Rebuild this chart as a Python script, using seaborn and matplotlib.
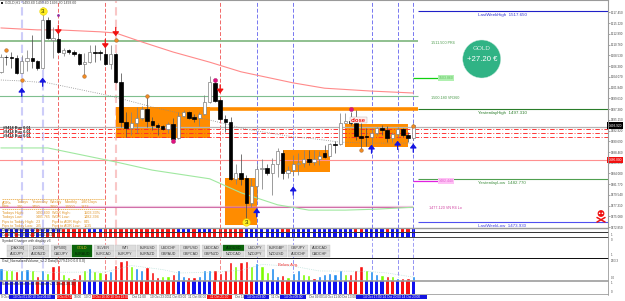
import numpy as np
import pandas as pd
import seaborn as sns
import matplotlib
matplotlib.use("Agg")
import matplotlib.pyplot as plt
from matplotlib.lines import Line2D
from matplotlib.patches import Circle, Rectangle
from matplotlib.transforms import Affine2D

# ---- price series (H1 candles) ----
opens = [1505.1,1508.2,1508.1,1508.0,1504.9,1507.3,1508.0,1507.3,1505.9,1515.85,
         1511.7,1511.9,1509.0,1509.6,1509.2,1508.8,1506.7,1507.1,1509.2,1509.2,
         1508.8,1506.7,1508.8,1503.0,1494.7,1493.4,1494.5,1495.5,1497.4,1494.9,
         1494.1,1493.9,1493.2,1494.3,1491.4,1495.9,1496.8,1495.7,1495.5,1496.3,
         1498.8,1502.8,1499.25,1495.3,1494.7,1482.9,1484.1,1483.1,1477.9,1481.4,
         1484.9,1485.1,1484.1,1486.0,1488.25,1484.1,1484.7,1486.0,1486.2,1487.0,
         1486.4,1487.0,1488.25,1487.6,1490.2,1490.1,1494.5,1494.9,1494.5,1491.8,
         1491.7,1491.6,1492.4,1493.4,1493.0,1491.4,1492.2,1493.2,1492.0,1491.4]
highs = [1508.8,1508.6,1509.2,1508.6,1508.6,1509.6,1512.7,1507.55,1517.3,1516.5,
         1514.4,1513.8,1510.0,1509.8,1509.6,1509.0,1509.0,1510.7,1510.7,1509.6,
         1510.2,1510.7,1509.0,1504.9,1496.8,1496.8,1497.8,1498.0,1499.9,1495.7,
         1494.5,1494.1,1494.7,1495.5,1496.8,1497.2,1497.0,1496.3,1496.8,1500.3,
         1504.2,1503.4,1499.5,1496.1,1495.7,1486.0,1488.0,1483.7,1483.1,1486.2,
         1487.0,1486.0,1487.2,1489.3,1488.9,1485.6,1487.8,1488.25,1488.9,1488.9,
         1488.9,1488.7,1489.9,1490.3,1490.7,1496.6,1496.6,1496.8,1497.2,1494.5,
         1493.4,1493.4,1493.6,1494.1,1493.9,1492.6,1493.6,1493.4,1492.6,1494.5]
lows = [1504.9,1506.5,1505.9,1504.6,1504.8,1505.3,1505.9,1505.5,1505.7,1511.9,
        1508.0,1509.0,1508.4,1508.8,1508.4,1506.5,1504.4,1506.9,1507.1,1507.55,
        1506.5,1505.7,1502.8,1493.6,1491.6,1492.0,1492.4,1495.1,1493.6,1493.0,
        1492.0,1493.0,1492.4,1490.5,1491.2,1495.7,1495.3,1494.7,1493.9,1496.1,
        1498.6,1498.8,1495.1,1492.6,1482.65,1481.8,1481.6,1473.9,1477.0,1478.5,
        1480.8,1483.7,1479.5,1483.3,1482.9,1483.1,1483.5,1483.7,1485.35,1485.8,
        1485.8,1485.8,1487.2,1487.6,1488.25,1489.9,1494.5,1494.1,1490.95,1488.9,
        1489.7,1489.5,1492.0,1492.0,1490.5,1490.5,1491.4,1491.6,1490.5,1490.95]
closes = [1508.2,1508.1,1508.0,1504.9,1507.3,1508.0,1507.3,1505.9,1515.85,1512.1,
          1512.1,1509.2,1509.6,1509.2,1508.8,1506.7,1507.1,1509.2,1509.0,1508.9,
          1506.7,1508.8,1503.0,1494.7,1493.4,1494.5,1495.5,1497.4,1494.9,1494.1,
          1493.6,1493.2,1494.3,1491.2,1495.9,1496.8,1495.5,1495.4,1496.3,1498.8,
          1503.0,1499.0,1495.3,1494.7,1482.9,1484.1,1482.9,1477.9,1481.4,1484.9,
          1485.1,1484.1,1486.0,1488.7,1484.1,1484.7,1486.0,1486.2,1487.0,1486.4,
          1487.0,1487.6,1487.4,1490.1,1490.0,1494.5,1494.9,1494.5,1491.8,1491.4,
          1491.5,1492.4,1493.4,1493.0,1491.4,1492.2,1493.2,1492.0,1491.4,1494.1]

# moving averages, as (candle index, price) knots
ma_red_idx = [0,7,11,19,22,27,33,40,46,56,62,71,79]
ma_red = [1514.2,1513.8,1513.8,1513.4,1513.15,1511.3,1509.2,1507.1,1505.1,1502.8,1501.7,1501.1,1500.7]
ma_grey_idx = [0,4,9,21,29,40,47,56,60,65,71,79]
ma_grey = [1503.4,1503.2,1502.8,1500.1,1497.8,1495.1,1493.2,1491.6,1491.2,1490.5,1490.3,1490.3]
ma_green_idx = [0,9,22,29,40,46,53,59,66,72,79]
ma_green = [1489.3,1489.3,1486.4,1484.7,1482.9,1480.0,1477.5,1476.4,1476.4,1476.6,1477.0]

# price levels
LAST_WEEK_HIGH = 1517.650
LAST_WEEK_LOW = 1473.930
YESTERDAY_HIGH = 1497.310
YESTERDAY_LOW = 1482.770
PR4 = 1511.500
VR360 = 1500.180
VN_R4 = 1477.120
STUB_GREEN = 1503.860
STUB_MAGENTA = 1482.440
BID = 1493.920
ASK_RED = 1486.800
GREY_LEVEL = 1493.75
order_levels = [1493.17, 1492.34, 1491.51]
price_ticks = [1517.450,1515.220,1512.990,1510.760,1508.530,1506.300,1504.070,
               1501.840,1499.610,1497.380,1495.150,1492.920,1490.690,1488.460,
               1486.230,1484.000,1481.770,1479.540,1477.310,1475.080,1472.850]

# session boxes: first candle, last candle, top price, bottom price
box_start = [22, 43, 54, 66]
box_end = [40, 49, 63, 78]
box_top = [1497.8, 1483.1, 1488.9, 1494.2]
box_bottom = [1491.4, 1473.3, 1484.4, 1489.6]

# signals
blue_vlines = [4, 8, 49, 56, 71, 76, 79]
red_vlines = [11, 20, 22, 42]
pale_vlines = [4, 8, 22]
up_idx = [4, 8, 49, 56, 71, 76, 79]
up_price = [1500.9, 1503.0, 1475.9, 1480.4, 1489.1, 1489.9, 1489.3]
down_idx = [11, 20, 22, 42]
down_price = [1513.8, 1510.9, 1513.4, 1501.5]
orange_idx = [1, 4, 16, 22, 28, 69, 79]
orange_price = [1509.6, 1503.4, 1504.2, 1511.7, 1500.1, 1488.9, 1493.9]
magenta_idx = [33, 41, 67]
magenta_price = [1490.7, 1503.4, 1497.4]
number_idx = [8, 47]
number_price = [1517.7, 1473.9]

# histogram panels
vol_values = [37,32,32,27,32,34,30,12,30,22,42,45,20,10,6,18,32,37,28,25,
              22,28,45,57,60,44,37,30,39,24,10,12,12,20,32,14,9,9,14,32,
              30,30,22,30,54,44,54,56,42,50,42,24,36,14,16,10,22,32,19,15,
              8,12,20,22,18,32,20,20,30,44,32,27,20,17,14,12,6,6,8,12]
vol_kinds = list("bggrbbgrbgrrggrrgbggrbrrrgbbrrrggrbbrrbb"
                 "brrrrgrrgbggbbrgbbggrbbbbbgrrrgbbgrgbrrb")
vol_avg_idx = [0,10,20,25,31,34,40,46,50,56,61,70,74,79]
vol_avg = [30,24,25,44,32,22,24,30,47,42,28,27,22,10]
strip_top = list("bbbbbbbrbbbbrrrrrbbbrrrrrrrrrrrrrrbbbrbbb"
                 "rrrrrrbbbbbbbrrbbbbbbbbbbbbrrbbbbrbbrrb")
strip_mid = list("brbrbbrbbrrrrrrrrrrrrrrrrrrrrrrrrrrrrrrr"
                 "rrrrrrrbbbbbbbbbbbbbbbbbbbbbbbbbbbbbbbbb")
strip_low = list("bbbbbbbrbbbrrrrrbbbbrrrrrrrrrrrrrrbbrbbb"
                 "brrrrrrrrbbbbbrrbbbbbbbbbbbrrrbbbbrrbrrb")

row1_symbols = ["[DAX30]","[DJI30]","[SP500]","GOLD","SILVER","WTI","EURUSD","USDCHF",
                "GBPUSD","USDCAD","AUDUSD","USDJPY","EURGBP","GBPJPY","AUDCAD"]
row2_symbols = ["AUDJPY","AUDNZD","CADJPY","EURAUD","EURCAD","EURJPY","EURNZD","GBPAUD",
                "GBPCAD","GBPNZD","NZDCAD","NZDJPY","NZDUSD","AUDCHF","CADCHF"]
active_symbols = ["GOLD", "AUDUSD", "EURAUD"]

table_rows = [("Todays High:", "1493.600", "WDR High:", "1503.33%"),
              ("Todays Low:", "1485.765", "WDR Low:", "1482.394"),
              ("Pips to Today High:", "-23", "Pips to ADR High:", "845"),
              ("Pips to Today Low:", "285", "Pips to ADR Low:", "1135")]

time_bands = [(9,55,"#1515e0","10 Oct 01:00 10 Oct 04:00"),
              (57,72,"#f01010","10 Oct 07:00"),
              (92,128,"#f01010","10 Oct 16:00 10 Oct 19:00"),
              (207,232,"#f01010","11 Oct 21:00"),
              (244,269,"#1515e0","14 Oct 03:00"),
              (280,306,"#1515e0","14 Oct 08:00"),
              (356,427,"#1515e0","14 Oct 17:00 14 Oct 20:00 14 Oct 23:00")]
time_labels = [(1,"9 Oct"),(74,"10:00"),(84,"10 O"),(132,"Oct 11:00"),(150,"10 Oct 23:00"),
               (168.5,"11 Oct 03:00"),(188,"11 Oct 06:00"),(235,"Oct 14"),(271,"11 Oc"),
               (309,"Oct 09:00"),(323.5,"14 Oct 11:00"),(342.5,"Oct 13:00")]

WIDTH, HEIGHT = 625, 301
CHART_RIGHT = 608
X0, PITCH = 0.9, 5.22

sns.set_theme(style="white")
plt.rcParams["font.family"] = ["Liberation Sans", "DejaVu Sans"]

fig = plt.figure(figsize=(WIDTH / 100, HEIGHT / 100), dpi=100, facecolor="white")
px = Affine2D().scale(1 / WIDTH, -1 / HEIGHT).translate(0, 1) + fig.transFigure


def panel(top, bottom, left=0, right=CHART_RIGHT):
    ax = fig.add_axes([left / WIDTH, 1 - bottom / HEIGHT, (right - left) / WIDTH, (bottom - top) / HEIGHT])
    ax.set_xlim(-X0 / PITCH - 0.0, (right - X0) / PITCH)
    ax.set_xlabel("")
    ax.set_ylabel("")
    return ax


def idx_at(x):
    return (x - X0) / PITCH


def label(x, y, s, size=2.5, color="#222222", ha="left", **kw):
    fig.text(x / WIDTH, 1 - y / HEIGHT, s, fontsize=size, color=color, ha=ha, va="center", zorder=20, **kw)


def rule(y, color, width_px, right=CHART_RIGHT):
    fig.add_artist(Line2D([0, right], [y, y], transform=px, color=color, lw=width_px * 0.72, zorder=15))


def vlines(ax, alpha_scale=1.0, zorder=1):
    for i in blue_vlines:
        pale = i in pale_vlines
        ax.axvline(i, color="#7070f0", lw=1.5 if pale else 0.7, ls=(0, (4, 2)),
                   alpha=(0.35 if pale else 0.95) * alpha_scale, zorder=zorder)
    for i in red_vlines:
        pale = i in pale_vlines
        ax.axvline(i, color="#f06060", lw=1.5 if pale else 0.7, ls=(0, (4, 2)),
                   alpha=(0.35 if pale else 0.95) * alpha_scale, zorder=zorder)


# ---- main price chart ----
ax = panel(0, 228)
ax.set_ylim(1472.69, 1520.0)
ax.set_facecolor("white")
vlines(ax)

for s, e, t, b in zip(box_start, box_end, box_top, box_bottom):
    ax.add_patch(Rectangle((s, b), e - s, t - b, color="#ff8c00", lw=0, zorder=1.5))

right_idx = idx_at(CHART_RIGHT)
level_start = idx_at(418)
ax.hlines(PR4, -1, 79.9, color="#8fc08f", lw=1.4, zorder=2)
ax.hlines(VR360, -1, 79.9, color="#7fbf8f", lw=0.8, zorder=2)
ax.hlines(YESTERDAY_HIGH, 40, 79.9, color="#ff8c00", lw=2.6, zorder=2)
ax.hlines(YESTERDAY_HIGH, level_start, right_idx, color="#2a7d2a", lw=0.8, zorder=2)
ax.hlines(LAST_WEEK_HIGH, level_start, right_idx, color="#2020c8", lw=0.8, zorder=2)
ax.hlines(YESTERDAY_LOW, level_start, right_idx, color="#4f9f4f", lw=0.8, zorder=2)
ax.hlines(LAST_WEEK_LOW, level_start, right_idx, color="#5050f0", lw=0.8, zorder=2)
ax.hlines(GREY_LEVEL, -1, right_idx, color="#b4b4b4", lw=0.9, zorder=2)
ax.hlines(order_levels, -1, right_idx, colors="#ff2a2a", lw=0.65, linestyles=(0, (5, 2, 1, 2)), zorder=2.1)
ax.hlines(ASK_RED, -1, right_idx, color="#ff9090", lw=0.8, zorder=2)
ax.hlines(VN_R4, -1, 79, color="#e090c0", lw=1.6, alpha=0.5, zorder=1.9)
ax.hlines(VN_R4, -1, 79, color="#cc5f9f", lw=0.6, zorder=2)
ax.hlines(STUB_GREEN, 79, idx_at(438), color="#10d010", lw=0.9, zorder=2)
ax.hlines(STUB_MAGENTA, 79, idx_at(438), color="#e020e0", lw=0.9, zorder=2)

sns.lineplot(x=ma_red_idx, y=ma_red, ax=ax, color="#ff8a8a", lw=0.8, sort=False, errorbar=None, zorder=2.2)
sns.lineplot(x=ma_green_idx, y=ma_green, ax=ax, color="#a0e8a0", lw=0.8, sort=False, errorbar=None, zorder=2.2)
sns.lineplot(x=ma_grey_idx, y=ma_grey, ax=ax, color="#8a8a8a", lw=0.6, ls=":", sort=False, errorbar=None, zorder=2.2)

idx = np.arange(len(opens))
o, h, l, c = map(np.array, (opens, highs, lows, closes))
up = c >= o
ax.vlines(idx[up], l[up], h[up], color="#808080", lw=0.55, zorder=3)
ax.vlines(idx[~up], l[~up], h[~up], color="#505050", lw=0.55, zorder=3)
ax.bar(idx[up], (c - o)[up], bottom=o[up], width=0.65, color="white", edgecolor="#808080", lw=0.5, zorder=3.1)
ax.bar(idx[~up], (c - o)[~up], bottom=o[~up], width=0.65, color="black", edgecolor="black", lw=0.5, zorder=3.1)

for i, p in zip(up_idx, up_price):
    ax.annotate("", xy=(i, p + 0.9), xytext=(i, p - 0.9),
                arrowprops=dict(arrowstyle="-|>,head_width=0.16,head_length=0.2", color="#1414e0", lw=0.9, shrinkA=0, shrinkB=0), zorder=5)
for i, p in zip(down_idx, down_price):
    ax.annotate("", xy=(i, p - 0.9), xytext=(i, p + 0.9),
                arrowprops=dict(arrowstyle="-|>,head_width=0.16,head_length=0.2", color="#f01010", lw=0.9, shrinkA=0, shrinkB=0), zorder=5)
ax.scatter(orange_idx, orange_price, s=7, color="#f08a20", edgecolor="#a06030", lw=0.3, zorder=5)
ax.scatter(magenta_idx, magenta_price, s=9, color="#e0107f", edgecolor="#a03070", lw=0.3, zorder=5)
ax.scatter([11], [1516.9], s=1, color="#9030a0", zorder=5)
ax.scatter(number_idx, number_price, s=30, color="#ffee20", edgecolor="#e8d000", lw=0.3, zorder=5)
for i, p in zip(number_idx, number_price):
    ax.text(i, p, "3", fontsize=4.5, color="#333300", ha="center", va="center", zorder=6)

ax.text(68.5, 1495.1, "close", fontsize=4.2, color="#f01010", weight="bold", ha="center", va="center", zorder=6,
        bbox=dict(facecolor="#fff0f0", edgecolor="#b0b0b0", lw=0.3, pad=0.5))

level_labels = [(LAST_WEEK_HIGH, "LastWeekHigh", "#3030d0"), (YESTERDAY_HIGH, "YesterdayHigh", "#2a7d2a"),
                (YESTERDAY_LOW, "YesterdayLow", "#3f8f3f"), (LAST_WEEK_LOW, "LastWeekLow", "#4040e0")]
for price, name, col in level_labels:
    ax.text(idx_at(502), price - 0.75, f"{name}  {price:.3f}", fontsize=3.2, color=col, ha="center", va="center", zorder=6)
ax.text(idx_at(443), PR4 - 0.5, f"{PR4:.3f} PR4", fontsize=2.7, color="#4a9a4a", ha="center", va="center")
ax.text(idx_at(445), VR360 - 0.5, f"{VR360:.3f} VR360", fontsize=2.7, color="#4a9a4a", ha="center", va="center")
ax.text(idx_at(445), VN_R4 - 0.3, f"{VN_R4:.3f} VN R4 Lo", fontsize=2.7, color="#d040a0", ha="center", va="center")
ax.text(idx_at(446), STUB_GREEN, f"{STUB_GREEN:.3f}", fontsize=2.5, color="#60c060", ha="center", va="center",
        bbox=dict(facecolor="#b0f0b0", edgecolor="none", pad=0.7))
ax.text(idx_at(446), STUB_MAGENTA, f"{STUB_MAGENTA:.3f}", fontsize=2.5, color="#e060d0", ha="center", va="center",
        bbox=dict(facecolor="#ffc0f5", edgecolor="none", pad=0.7))
for y in (1493.5, 1492.6, 1491.75):
    ax.text(idx_at(3), y, "#9414 Buy 0.01", fontsize=2.8, color="#222222", weight="bold", va="center", zorder=6)

ax.yaxis.tick_right()
ax.set_yticks(price_ticks)
ax.set_yticklabels([f"{t:.3f}" for t in price_ticks], fontsize=2.2, color="#444444")
ax.set_xticks([])
ax.tick_params(axis="y", length=1.4, width=0.4, color="#666666", pad=0.6, right=True)
for side in ("left", "bottom"):
    ax.spines[side].set_visible(False)
for side in ("top", "right"):
    ax.spines[side].set_color("#9a9a9a")
    ax.spines[side].set_linewidth(0.8)

ax.text(right_idx + 0.1, BID, f"{BID:.3f}", fontsize=2.3, color="white", va="center", ha="left", clip_on=False,
        bbox=dict(facecolor="black", edgecolor="none", pad=0.9), zorder=7)
ax.text(right_idx + 0.1, ASK_RED, f"{ASK_RED:.3f}", fontsize=2.3, color="white", va="center", ha="left", clip_on=False,
        bbox=dict(facecolor="#f01010", edgecolor="none", pad=0.9), zorder=7)

# header and daily-range table
fig.add_artist(Rectangle((1, 2), 2, 2, transform=px, color="#222222", lw=0))
label(5, 3, "GOLD,H1  1493.60 1493.60 1493.30 1493.60", size=2.5, color="#444444")
for y in (199, 209):
    fig.add_artist(Line2D([2, 105], [y, y], transform=px, color="#e8a030", lw=0.5, ls=(0, (2, 1)), zorder=15))
for x, s in zip((2, 17, 32, 50, 65, 81), ("ADRs", "Todays", "Yesterday", "Weekly", "Monthly", "180 Days")):
    label(x, 202.5, s, size=2.7, color="#e0962a")
for x, s in zip((2, 17, 32, 50, 65, 81), ("Pips:", "200", "3450", "2350", "10000", "1873")):
    label(x, 206.5, s, size=2.7, color="#e0962a")
for y, row in zip((212.7, 217.3, 221.7, 226), table_rows):
    for x, s, sz in zip((2, 36, 52.5, 84), row, (2.7, 2.5, 2.7, 2.7)):
        label(x, y, s, size=sz, color="#e0962a")

fig.add_artist(Circle((481.7, 59), 19, transform=px, facecolor="#30b385", edgecolor="#c8e8dc", lw=0.3, zorder=12))
label(481.7, 48.5, "GOLD", size=4.6, color="#d8efe6", ha="center")
label(481.7, 59.5, "+27.20 €", size=5.6, color="white", ha="center")

# skull and crossbones marker next to the weekly low
fig.add_artist(Line2D([597, 605], [217.5, 222], transform=px, color="#f01010", lw=1.1, zorder=13))
fig.add_artist(Line2D([597, 605], [222, 217.5], transform=px, color="#f01010", lw=1.1, zorder=13))
fig.add_artist(Circle((601, 213.5), 3.4, transform=px, facecolor="#f01010", edgecolor="none", zorder=13))
for ex in (599.6, 602.4):
    fig.add_artist(Circle((ex, 213.3), 0.8, transform=px, facecolor="white", edgecolor="none", zorder=14))

# ---- trend strips ----
palette = {"b": "#1010f0", "r": "#f81010"}
ax_s1 = panel(228, 232)
ax_s1.bar(idx, 1, width=0.6, color=[palette[k] for k in strip_top], lw=0)
ax_s2 = panel(233, 237)
ax_s2.bar(idx, 1, width=0.6, color=[palette[k] for k in strip_mid], lw=0)
for a in (ax_s1, ax_s2):
    a.set_ylim(0, 1)
    a.set_axis_off()
    vlines(a, 0.6, zorder=3)
label(2, 230.4, "Candle_Trend_Bars v1.2 Data(3.0 0.00 0.00)", size=2.2, color="#333333")
label(2, 235.4, "Candle_Trend_Bars v1.2 Data(6.0 0.00)", size=2.2, color="#333333")

# ---- symbol changer ----
ax_btn = fig.add_axes([0, 1 - 258 / HEIGHT, CHART_RIGHT / WIDTH, 20 / HEIGHT])
ax_btn.set_xlim(-X0 / PITCH, idx_at(CHART_RIGHT))
ax_btn.set_ylim(258, 238)
ax_btn.set_axis_off()
vlines(ax_btn, 0.7)
label(2, 240.6, "Symbol Changer with display v3", size=2.4, color="#333333")
for (top, names) in ((244.7, row1_symbols), (251.3, row2_symbols)):
    for n, name in enumerate(names):
        left = 7.3 + 21.6 * n
        active = name in active_symbols
        fig.add_artist(Rectangle((left, top), 20.2, 5.9, transform=px, lw=0.25, zorder=13,
                                 facecolor="#0b640b" if active else "#dcdcdc",
                                 edgecolor="#0b640b" if active else "#bcbcbc"))
        colour = "#e0b020" if name == "GOLD" else ("#08240a" if active else "#3a3a3a")
        label(left + 10.1, top + 3, name, size=2.7, color=colour, ha="center")

# ---- normalized volume ----
ax_v = panel(258, 280.5)
vlines(ax_v, 0.8)
vol_df = pd.DataFrame({"i": idx, "v": vol_values, "k": vol_kinds})
sns.barplot(data=vol_df, x="i", y="v", hue="k", dodge=False, native_scale=True, width=0.62, saturation=1,
            palette={"b": "#1e8cf0", "g": "#7cfc00", "r": "#f81010"}, legend=False, ax=ax_v, zorder=2)
sns.lineplot(x=vol_avg_idx, y=vol_avg, ax=ax_v, color="#a8d8d0", lw=0.5, ls=":", sort=False, errorbar=None, zorder=3)
ax_v.set_xlim(-X0 / PITCH, idx_at(CHART_RIGHT))
ax_v.set_ylim(0, 66)
ax_v.set_axis_off()
label(2, 261, "Gad_NormalizedVolume_v2.2 Data(9.27%19.0 0.0 0.0)", size=2.4, color="#333333")
label(278, 265, "Below Avg.", size=3.0, color="#f03030")

# ---- volume trend histogram ----
ax_h = panel(281, 294)
vlines(ax_h, 0.5)
ax_h.bar(idx, 1, width=0.6, color=[palette[k] for k in strip_low], lw=0, zorder=2)
ax_h.set_ylim(0, 1)
ax_h.set_axis_off()
label(2, 284.2, "NormalizeVolume Trend Histogram v2.2 Data(3.0 0.00)", size=2.2, color="#333333")

# ---- pane separators ----
rule(228.2, "#999999", 1.4)
rule(232.4, "#222222", 0.9)
rule(237.4, "#333333", 0.9)
rule(258.2, "#111111", 1.0)
rule(280.8, "#999999", 1.6)
rule(294.2, "#999999", 0.8)
fig.add_artist(Line2D([CHART_RIGHT, CHART_RIGHT], [0, 294.5], transform=px, color="#9a9a9a", lw=0.6, zorder=15))

# ---- right gutter labels of the sub-panes ----
for y, s in ((235, "1"), (240, "0"), (255, "1"), (261, "29/3.3"), (278, "0.0"), (283, "1"), (292, "0")):
    label(611, y, s, size=2.1, color="#444444")

# ---- time axis ----
for left, right, colour, s in time_bands:
    fig.add_artist(Rectangle((left, 295.2), right - left, 3.8, transform=px, color=colour, lw=0, zorder=14))
    label((left + right) / 2, 297.2, s, size=2.3, color="white", ha="center")
for x, s in time_labels:
    label(x, 297.2, s, size=2.3, color="#444444")

fig.savefig("out.png", dpi=100)
